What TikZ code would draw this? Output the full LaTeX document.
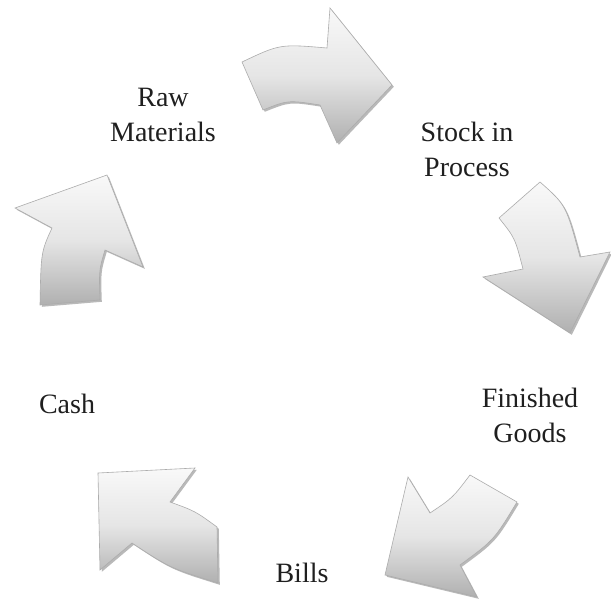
\documentclass[tikz,border=0pt]{standalone}
\usepackage{fontspec}
\setmainfont{Liberation Serif}
\begin{document}
\begin{tikzpicture}[x=1pt,y=-1pt,
  lbl/.style={inner sep=0pt, align=center, anchor=base, font=\fontsize{28}{35}\selectfont, text=black!88},
  arrowshade/.style={draw=gray!65, line width=0.6pt, top color=gray!5, bottom color=gray!62, middle color=gray!20},
  arrowshadow/.style={fill=gray!55, shift={(1.8,1.8)}}]
\useasboundingbox (0,0) rectangle (611,599);
\fill[white] (0,0) rectangle (611,599);
% arrow paths
\def\arrowTop{(242,62) .. controls (280,44) .. (327,48) -- (330,8) -- (392,85) -- (337,143) -- (320,105) .. controls (288,100) .. (263,110) -- cycle}
\def\arrowRight{(499,218) -- (540,182) .. controls (566,205) .. (580,257) -- (610,252) -- (570,333) -- (483,277) -- (523,269) .. controls (515,238) .. cycle}
\def\arrowBR{(470,475) -- (517,502) .. controls (494,540) .. (460,565) -- (477,597) -- (385,575) -- (408,477) -- (430,513) .. controls (452.5,498) .. cycle}
\def\arrowBL{(98,473) -- (195,468) -- (170,502) .. controls (195,511) .. (217,527) -- (218,583) .. controls (170,568) .. (132,543) -- (100,570) -- cycle}
\def\arrowLeft{(40,305) -- (100,300) .. controls (99,270) .. (105,250) -- (143,267) -- (107,175) -- (15,208) -- (52,228) .. controls (41,252) .. cycle}
\foreach \p in {\arrowTop,\arrowRight,\arrowBR,\arrowBL,\arrowLeft}{
  \fill[arrowshadow] \p;
  \shade[arrowshade] \p;
}
% labels
\node[lbl] (raw) at (163,142) {Raw\\Materials};
\node[lbl] (stock) at (467,177) {Stock in\\Process};
\node[lbl] (fin) at (530,442) {Finished\\Goods};
\node[lbl] (bills) at (302,582) {Bills};
\node[lbl] (cash) at (67,413) {Cash};
\end{tikzpicture}
\end{document}
